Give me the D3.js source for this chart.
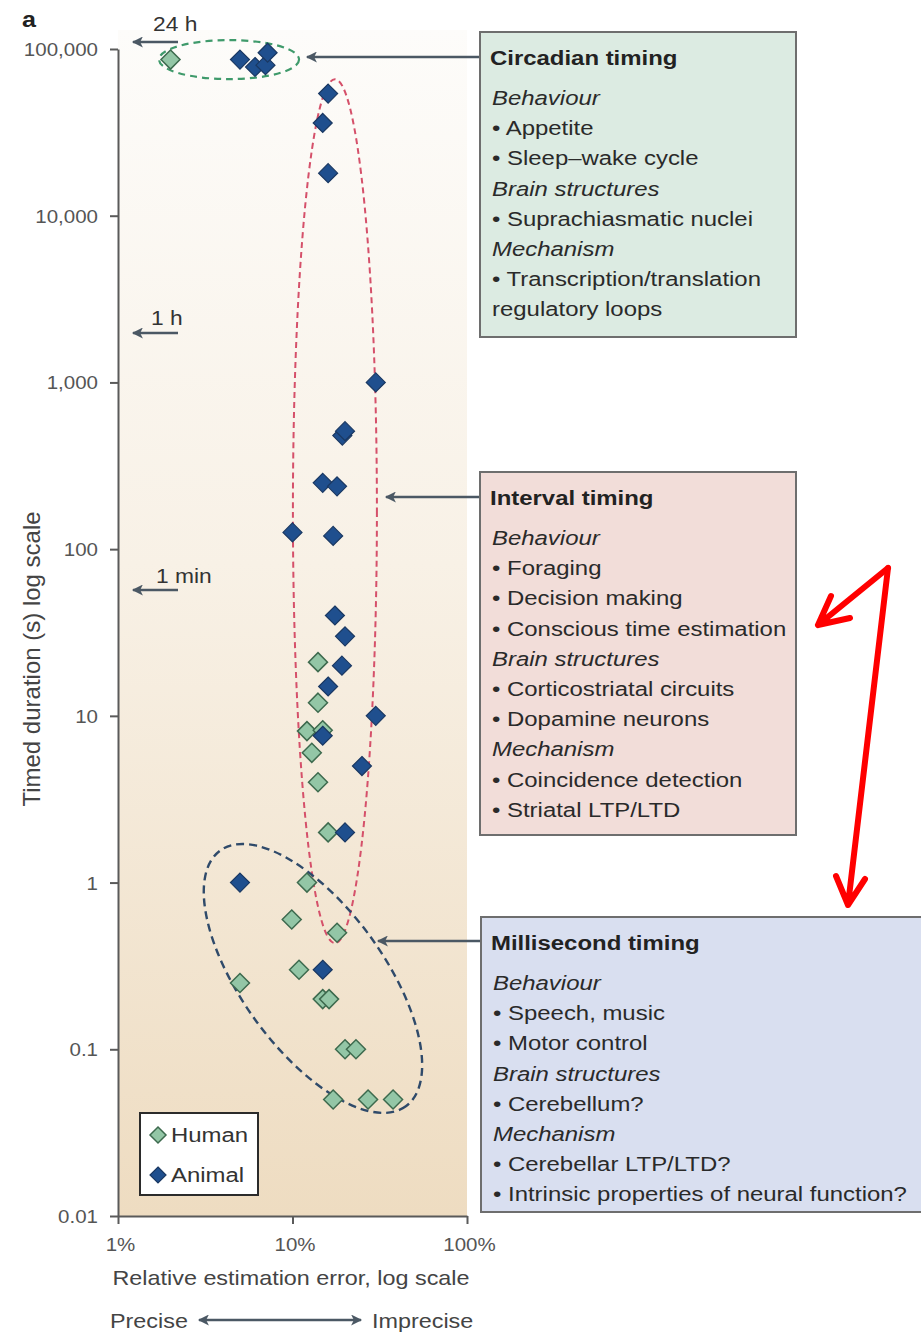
<!DOCTYPE html>
<html>
<head>
<meta charset="utf-8">
<script src="https://cdn.jsdelivr.net/npm/d3@7/dist/d3.min.js"></script>
<style>
  html, body { margin: 0; padding: 0; background: #ffffff; }
  svg { display: block; font-family: "Liberation Sans", Arial, Helvetica, sans-serif; }
</style>
</head>
<body>
<svg id="chart" width="921" height="1332"></svg>
<script>
// ---- data: relative estimation error (%) and timed duration (s) ----
const humanError    = [2.0, 14, 14, 12.1, 14.9, 12.9, 14, 16, 12.1, 9.9, 18, 10.9, 5.0, 14.9, 16.2, 20, 23.1, 17.1, 27.1, 37.7];
const humanDuration = [86400, 21, 12, 8.1, 8.2, 6, 4, 2, 1, 0.6, 0.5, 0.3, 0.25, 0.2, 0.2, 0.1, 0.1, 0.05, 0.05, 0.05];

const animalError    = [5.0, 6.1, 7.0, 7.2, 16, 14.9, 16, 30, 19.3, 20, 14.9, 18, 10, 17.1, 17.5, 20, 19.2, 16, 30, 14.9, 25, 20, 5, 14.9];
const animalDuration = [86400, 78000, 80000, 95000, 54000, 36000, 18000, 1000, 480, 510, 250, 238, 126, 120, 40, 30, 20, 15, 10, 7.6, 5, 2, 1, 0.3];

// axis ticks
const yTicks = [0.01, 0.1, 1, 10, 100, 1000, 10000, 100000];
const yTickLabels = ["0.01", "0.1", "1", "10", "100", "1,000", "10,000", "100,000"];
const xTicks = [1, 10, 100];
const xTickLabels = ["1%", "10%", "100%"];

// timing regimes: group centre (error %, duration s) and their descriptions
const groupNames = ["Circadian timing", "Interval timing", "Millisecond timing"];
const groupCentreError = [4.33, 17.5, 13.1];
const groupCentreDuration = [86400, 169, 0.266];
const circadianLines = [
  ["i", "Behaviour"], ["b", "Appetite"], ["b", "Sleep\u2013wake cycle"],
  ["i", "Brain structures"], ["b", "Suprachiasmatic nuclei"],
  ["i", "Mechanism"], ["b", "Transcription/translation"], ["n", "regulatory loops"]
];
const intervalLines = [
  ["i", "Behaviour"], ["b", "Foraging"], ["b", "Decision making"], ["b", "Conscious time estimation"],
  ["i", "Brain structures"], ["b", "Corticostriatal circuits"], ["b", "Dopamine neurons"],
  ["i", "Mechanism"], ["b", "Coincidence detection"], ["b", "Striatal LTP/LTD"]
];
const millisecondLines = [
  ["i", "Behaviour"], ["b", "Speech, music"], ["b", "Motor control"],
  ["i", "Brain structures"], ["b", "Cerebellum?"],
  ["i", "Mechanism"], ["b", "Cerebellar LTP/LTD?"], ["b", "Intrinsic properties of neural function?"]
];

// ---- layout ----
const SX = 1.14;               // horizontal widening of the typeface
const svg = d3.select("#chart");
const x = d3.scaleLog().domain([1, 100]).range([118, 467]);
const y = d3.scaleLog().domain([0.01, 100000]).range([1216, 49]);

// text placed at (tx, ty) and widened horizontally around its anchor
function label(parent, tx, ty, str, size, opts = {}) {
  return parent.append("text")
    .attr("transform", `translate(${tx},${ty}) scale(${SX},1)`)
    .attr("font-size", size)
    .attr("fill", opts.fill || "#333")
    .attr("font-weight", opts.weight || null)
    .attr("font-style", opts.style || null)
    .attr("text-anchor", opts.anchor || "start")
    .text(str);
}

const defs = svg.append("defs");
const grad = defs.append("linearGradient").attr("id", "bg").attr("x1", 0).attr("y1", 0).attr("x2", 0).attr("y2", 1);
grad.append("stop").attr("offset", 0).attr("stop-color", "#fdfcfa");
grad.append("stop").attr("offset", 0.45).attr("stop-color", "#f8f1e6");
grad.append("stop").attr("offset", 1).attr("stop-color", "#eedcc1");

defs.append("marker").attr("id", "headGrey").attr("viewBox", "0 0 10 10")
  .attr("refX", 9).attr("refY", 5).attr("markerWidth", 5.6).attr("markerHeight", 4.4)
  .attr("orient", "auto-start-reverse").attr("markerUnits", "strokeWidth")
  .append("path").attr("d", "M10,5 L0,0 L2.5,5 L0,10 Z").attr("fill", "#4b5864");

// plot background
svg.append("rect").attr("x", 118).attr("y", 30).attr("width", 349).attr("height", 1186).attr("fill", "url(#bg)");

// panel letter
label(svg, 22, 27, "a", 22, { weight: "bold", fill: "#222" });

// axes
const yAxis = d3.axisLeft(y).tickValues(yTicks).tickFormat((d, i) => yTickLabels[i]).tickSize(8).tickSizeOuter(0);
const gy = svg.append("g").attr("transform", "translate(118,0)").call(yAxis);
const xAxis = d3.axisBottom(x).tickValues(xTicks).tickFormat((d, i) => xTickLabels[i]).tickSize(8).tickSizeOuter(0);
const gx = svg.append("g").attr("transform", "translate(0,1216)").call(xAxis);
[gx, gy].forEach(g => {
  g.select(".domain").attr("stroke", "#5a5a5a").attr("stroke-width", 2);
  g.selectAll(".tick line").attr("stroke", "#5a5a5a").attr("stroke-width", 2);
  g.selectAll(".tick text").attr("fill", "#555").attr("font-size", 18)
    .attr("font-family", "Liberation Sans, Arial, sans-serif");
});
gy.selectAll(".tick text").attr("x", null).attr("dy", null)
  .attr("transform", `translate(-20,6.5) scale(${SX},1)`);
gx.selectAll(".tick text").attr("y", null).attr("dy", null)
  .attr("transform", `translate(2,35) scale(${SX},1)`);

// axis titles
svg.append("text").attr("transform", "translate(40,659) rotate(-90)").attr("text-anchor", "middle")
  .attr("font-size", 24).attr("fill", "#444").text("Timed duration (s) log scale");
label(svg, 291, 1285, "Relative estimation error, log scale", 20.5, { anchor: "middle", fill: "#444" });
label(svg, 110, 1328, "Precise", 20.5, { fill: "#444" });
label(svg, 372, 1328, "Imprecise", 20.5, { fill: "#444" });
svg.append("line").attr("x1", 199).attr("x2", 361).attr("y1", 1320).attr("y2", 1320)
  .attr("stroke", "#4b5864").attr("stroke-width", 2.5)
  .attr("marker-start", "url(#headGrey)").attr("marker-end", "url(#headGrey)");

// reference durations marked at the left edge
const refMarks = [
  { label: "24 h", ty: 31, tx: 153, ay: 42 },
  { label: "1 h", ty: 325, tx: 151, ay: 333 },
  { label: "1 min", ty: 583, tx: 156, ay: 590 }
];
refMarks.forEach(m => {
  label(svg, m.tx, m.ty, m.label, 20, { fill: "#333" });
  svg.append("line").attr("x1", 178).attr("x2", 133).attr("y1", m.ay).attr("y2", m.ay)
    .attr("stroke", "#4b5864").attr("stroke-width", 2.5).attr("marker-end", "url(#headGrey)");
});

// group envelopes (dashed ellipses)
const envelopes = [
  { rx: 70, ry: 19.5, rot: 0, stroke: "#3f9a6b", dash: "7,5", w: 2.2 },
  { rx: 42, ry: 432, rot: 0, stroke: "#d5506a", dash: "6,4", w: 2 },
  { rx: 158, ry: 71, rot: 54, stroke: "#2f4a6a", dash: "8,5", w: 2.4 }
];
envelopes.forEach((e, i) => {
  svg.append("ellipse")
    .attr("transform", `translate(${x(groupCentreError[i])},${y(groupCentreDuration[i])}) rotate(${e.rot})`)
    .attr("rx", e.rx).attr("ry", e.ry).attr("fill", "none")
    .attr("stroke", e.stroke).attr("stroke-width", e.w).attr("stroke-dasharray", e.dash);
});

// data points as diamonds
const diamond = r => `M0,${-r} L${r},0 L0,${r} L${-r},0 Z`;
const humans = humanError.map((e, i) => ({ e, d: humanDuration[i] }));
const animals = animalError.map((e, i) => ({ e, d: animalDuration[i] }));
svg.append("g").selectAll("path").data(humans).join("path")
  .attr("d", diamond(9.5)).attr("transform", p => `translate(${x(p.e)},${y(p.d)})`)
  .attr("fill", "#93c6a6").attr("stroke", "#3d6a4e").attr("stroke-width", 1.5);
svg.append("g").selectAll("path").data(animals).join("path")
  .attr("d", diamond(9.5)).attr("transform", p => `translate(${x(p.e)},${y(p.d)})`)
  .attr("fill", "#1f4f8e").attr("stroke", "#1a3862").attr("stroke-width", 1.2);

// legend
const lg = svg.append("g");
lg.append("rect").attr("x", 140).attr("y", 1113).attr("width", 118).attr("height", 82)
  .attr("fill", "#ffffff").attr("stroke", "#2b2b2b").attr("stroke-width", 2);
lg.append("path").attr("d", diamond(8)).attr("transform", "translate(158,1135)")
  .attr("fill", "#93c6a6").attr("stroke", "#3d6a4e").attr("stroke-width", 1.5);
lg.append("path").attr("d", diamond(8)).attr("transform", "translate(158,1175)")
  .attr("fill", "#1f4f8e").attr("stroke", "#1a3862").attr("stroke-width", 1.2);
label(lg, 171, 1142, "Human", 21, { fill: "#333" });
label(lg, 171, 1182, "Animal", 21, { fill: "#333" });

// description boxes with pointer arrows
const boxes = [
  { x: 480, y: 32, w: 316, h: 305, fill: "#dcebe2", lines: circadianLines, ay: 57, ax: 307 },
  { x: 480, y: 472, w: 316, h: 363, fill: "#f2ddd9", lines: intervalLines, ay: 497, ax: 386 },
  { x: 481, y: 917, w: 460, h: 295, fill: "#d9dff0", lines: millisecondLines, ay: 941, ax: 378 }
];
boxes.forEach((b, i) => {
  svg.append("line").attr("x1", b.x).attr("x2", b.ax).attr("y1", b.ay).attr("y2", b.ay)
    .attr("stroke", "#4b5864").attr("stroke-width", 2.5).attr("marker-end", "url(#headGrey)");
  svg.append("rect").attr("x", b.x).attr("y", b.y).attr("width", b.w).attr("height", b.h)
    .attr("fill", b.fill).attr("stroke", "#6e6e6e").attr("stroke-width", 2);
  label(svg, b.x + 10, b.y + 33, groupNames[i], 21, { weight: "bold", fill: "#222" });
  b.lines.forEach((ln, j) => {
    const ty = b.y + 73 + j * 30.2;
    if (ln[0] === "i") label(svg, b.x + 12, ty, ln[1], 21, { style: "italic", fill: "#2a2a2a" });
    else if (ln[0] === "b") label(svg, b.x + 12, ty, "\u2022 " + ln[1], 21, { fill: "#2a2a2a" });
    else label(svg, b.x + 12, ty, ln[1], 21, { fill: "#2a2a2a" });
  });
});

// red emphasis arrows
const red = svg.append("g").attr("stroke", "#ff0000").attr("stroke-width", 6)
  .attr("stroke-linecap", "round").attr("stroke-linejoin", "round").attr("fill", "none");
red.append("path").attr("d", "M888,568 L818,625 M831,596 L818,625 L850,618");
red.append("path").attr("d", "M888,568 L848,905 M836,876 L848,905 L865,879");
</script>
</body>
</html>
